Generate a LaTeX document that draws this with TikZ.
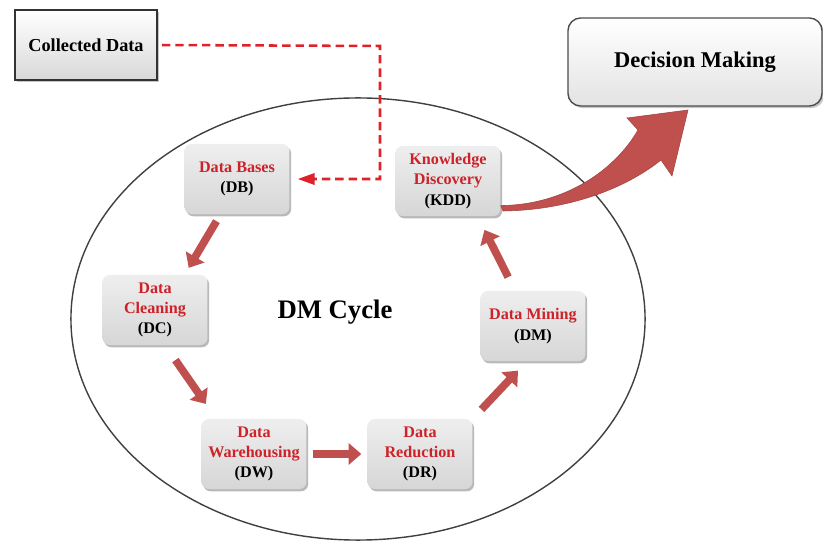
\documentclass[tikz,border=0pt]{standalone}
\usepackage{fontspec}
\setmainfont{Liberation Serif}
\usepackage{tikz}
\usetikzlibrary{positioning, arrows.meta, shadows}

\definecolor{stepred}{RGB}{204,34,41}
\definecolor{arrowred}{RGB}{192,80,77}
\definecolor{dashred}{RGB}{222,34,42}

\begin{document}
\begin{tikzpicture}[x=0.025cm, y=-0.025cm,
    stagenode/.style={rectangle, rounded corners=5pt, draw=none, top color=gray!13, bottom color=gray!32, drop shadow={shadow xshift=1.2pt, shadow yshift=-1.6pt, opacity=0.55}, minimum width=2.62cm, minimum height=1.75cm, align=center, font=\fontsize{11.5}{14.5}\selectfont\bfseries},
    sourcenode/.style={rectangle, draw=black!80, line width=1.3pt, top color=white, bottom color=gray!30, drop shadow={shadow xshift=1.5pt, shadow yshift=-1.5pt, opacity=0.45}, minimum width=3.55cm, minimum height=1.75cm, font=\fontsize{13}{15}\selectfont\bfseries},
    goalnode/.style={rectangle, rounded corners=9pt, draw=black!70, line width=1pt, top color=white, bottom color=gray!22, drop shadow={shadow xshift=1.5pt, shadow yshift=-1.5pt, opacity=0.45}, minimum width=6.35cm, minimum height=2.2cm, font=\fontsize{16}{18}\selectfont\bfseries},
    cyclearrow/.style={draw=arrowred, line width=5.5pt, -{Triangle[width=15pt,length=9pt]}},
    feedline/.style={draw=dashred, line width=1.8pt, dash pattern=on 6pt off 3.5pt, -{Triangle[width=8pt,length=12pt]}},
    ]
    \useasboundingbox (0,0) rectangle (823,544);

    %Cycle
    \draw[black!75, line width=1pt] (358,319) ellipse [x radius=7.175cm, y radius=5.525cm];

    %Nodes
    \node[sourcenode] (collected) at (86,45) {Collected Data};
    \node[goalnode] (decision) at (695,62) {Decision Making};
    \node[font=\fontsize{19}{21}\selectfont\bfseries] (cycle) at (335,312) {DM Cycle};

    \node[stagenode] (db) at (237,179) {\textcolor{stepred}{Data Bases}\\(DB)};
    \node[stagenode] (kdd) at (448,181) {\textcolor{stepred}{Knowledge}\\\textcolor{stepred}{Discovery}\\(KDD)};
    \node[stagenode] (dc) at (155,310) {\textcolor{stepred}{Data}\\\textcolor{stepred}{Cleaning}\\(DC)};
    \node[stagenode] (dm) at (533,326) {\textcolor{stepred}{Data Mining}\\(DM)};
    \node[stagenode] (dw) at (254,454) {\textcolor{stepred}{Data}\\\textcolor{stepred}{Warehousing}\\(DW)};
    \node[stagenode] (dr) at (420,454) {\textcolor{stepred}{Data}\\\textcolor{stepred}{Reduction}\\(DR)};

    %Arrows
    \draw[cyclearrow, shorten <=0.2cm, shorten >=0.2cm] (db.-115) -- (dc.50);
    \draw[cyclearrow, shorten <=0.45cm, shorten >=0.45cm] (dc.-74) -- (dw.137);
    \draw[cyclearrow, shorten <=0.15cm, shorten >=0.15cm] (dw.east) -- (dr.west);
    \draw[cyclearrow, shorten <=0.32cm, shorten >=0.32cm] (dr.north east) -- (dm.-100);
    \draw[cyclearrow, shorten <=0.38cm, shorten >=0.38cm] (dm.117) -- (kdd.-50);

    \coordinate (bend) at (380,46);
    \draw[feedline, shorten <=0.1cm, shorten >=0.2cm] (collected.east) -- (bend) |- (db.east);

    \coordinate (tail) at (kdd.-25);
    \fill[arrowred, draw=arrowred!85!black, line width=0.4pt] (tail) .. controls (565,205) and (615,170) .. (638,130) -- (627,118) -- (688,110) -- (672,176) -- (661,160) .. controls (630,185) and (575,210) .. (503,211) -- cycle;
\end{tikzpicture}
\end{document}
